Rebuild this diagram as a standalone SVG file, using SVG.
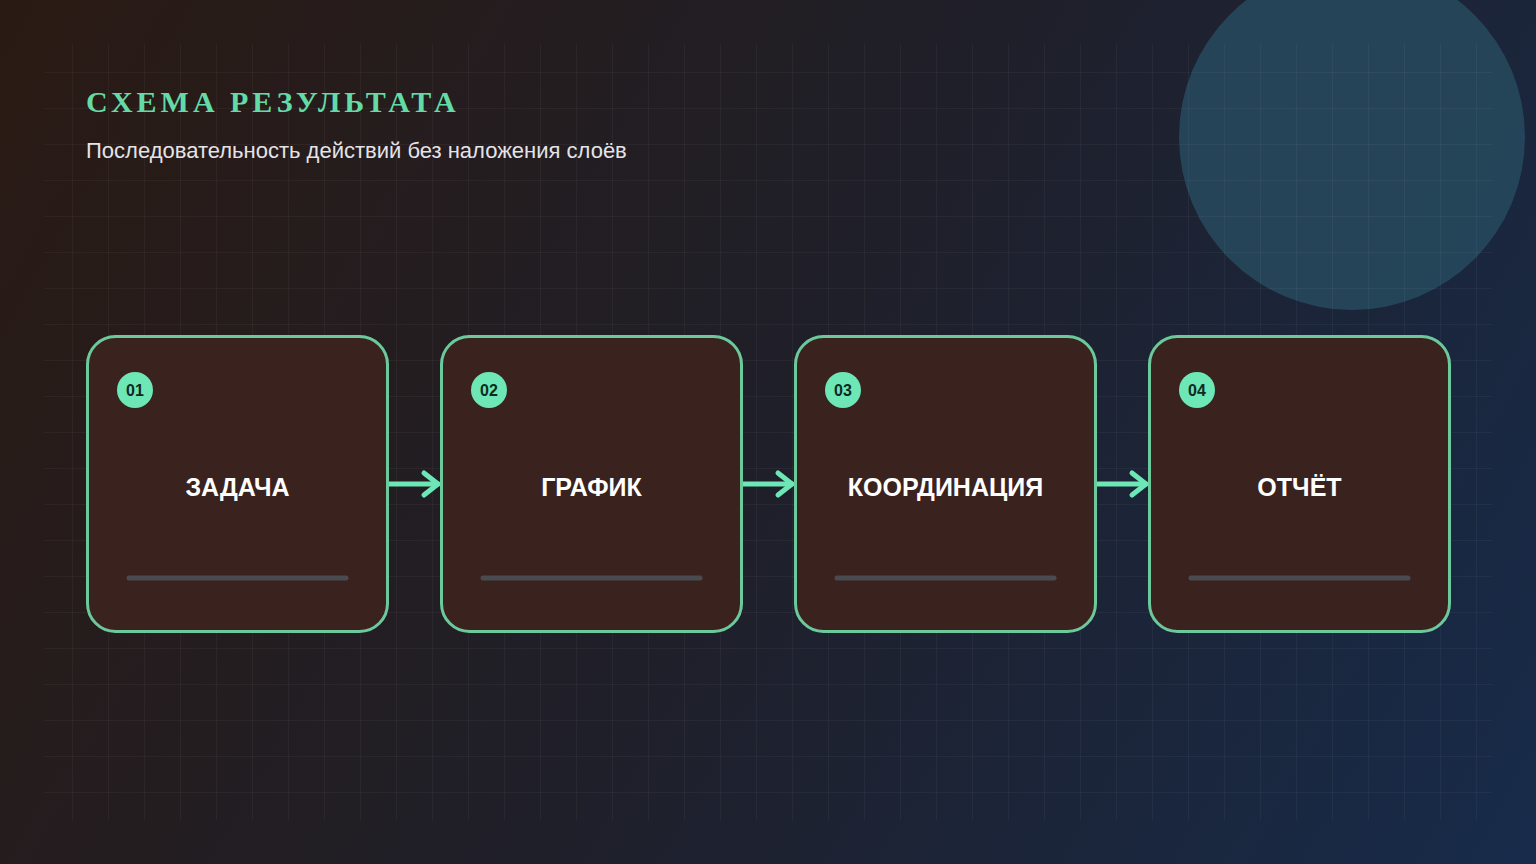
<svg xmlns="http://www.w3.org/2000/svg" width="1536" height="864" viewBox="0 0 1536 864">
  <defs>
    <linearGradient id="bg" x1="0" y1="0" x2="1536" y2="864" gradientUnits="userSpaceOnUse">
      <stop offset="0" stop-color="#2a1a13"/>
      <stop offset="0.5" stop-color="#1f1f29"/>
      <stop offset="1" stop-color="#172b4a"/>
    </linearGradient>
    <pattern id="grid" x="0" y="0" width="36" height="36" patternUnits="userSpaceOnUse">
      <path d="M0 0.5 H36 M0.5 0 V36" fill="none" stroke="#ffffff" stroke-opacity="0.04" stroke-width="1"/>
    </pattern>
    <marker id="chev" viewBox="0 0 30 30" refX="25" refY="15" markerWidth="30" markerHeight="30" markerUnits="userSpaceOnUse" orient="auto">
      <path d="M11 4 L25 15 L11 26" fill="none" stroke="#6ee7b7" stroke-width="5" stroke-linecap="round" stroke-linejoin="round"/>
    </marker>
    <style>
      .title { font-family: "Liberation Serif", "DejaVu Serif", serif; font-weight: bold; font-size: 30px; letter-spacing: 4px; fill: #63dba6; }
      .sub { font-family: "Liberation Sans", Arial, sans-serif; font-size: 22px; fill: #e4e4e8; }
      .card { fill: #3a221f; stroke: #6cc99c; stroke-width: 3; }
      .badge { fill: #6ee7b7; }
      .num { font-family: "Liberation Sans", Arial, sans-serif; font-weight: bold; font-size: 16px; fill: #0f2a22; text-anchor: middle; }
      .label { font-family: "Liberation Sans", Arial, sans-serif; font-weight: bold; font-size: 25px; fill: #ffffff; text-anchor: middle; }
      .bar { stroke: #4a4b51; stroke-width: 5; stroke-linecap: round; }
      .conn { stroke: #6ee7b7; stroke-width: 5; stroke-linecap: round; fill: none; }
    </style>
  </defs>

  <rect x="0" y="0" width="1536" height="864" fill="url(#bg)"/>
  <circle cx="1352" cy="137" r="173" fill="#274a5e" fill-opacity="0.85"/>
  <rect x="44" y="44" width="1448" height="776" fill="url(#grid)"/>

  <text class="title" x="86" y="112">СХЕМА РЕЗУЛЬТАТА</text>
  <text class="sub" x="86" y="158">Последовательность действий без наложения слоёв</text>

  <g id="connectors">
    <line class="conn" x1="389" y1="484" x2="438" y2="484" marker-end="url(#chev)"/>
    <line class="conn" x1="743" y1="484" x2="792" y2="484" marker-end="url(#chev)"/>
    <line class="conn" x1="1097" y1="484" x2="1146" y2="484" marker-end="url(#chev)"/>
  </g>

  <g id="node1">
    <rect class="card" x="87.5" y="336.5" width="300" height="295" rx="28"/>
    <circle class="badge" cx="135" cy="390" r="18"/>
    <text class="num" x="135" y="396">01</text>
    <text class="label" x="237.5" y="496">ЗАДАЧА</text>
    <line class="bar" x1="129" y1="578" x2="346" y2="578"/>
  </g>
  <g id="node2">
    <rect class="card" x="441.5" y="336.5" width="300" height="295" rx="28"/>
    <circle class="badge" cx="489" cy="390" r="18"/>
    <text class="num" x="489" y="396">02</text>
    <text class="label" x="591.5" y="496">ГРАФИК</text>
    <line class="bar" x1="483" y1="578" x2="700" y2="578"/>
  </g>
  <g id="node3">
    <rect class="card" x="795.5" y="336.5" width="300" height="295" rx="28"/>
    <circle class="badge" cx="843" cy="390" r="18"/>
    <text class="num" x="843" y="396">03</text>
    <text class="label" x="945.5" y="496">КООРДИНАЦИЯ</text>
    <line class="bar" x1="837" y1="578" x2="1054" y2="578"/>
  </g>
  <g id="node4">
    <rect class="card" x="1149.5" y="336.5" width="300" height="295" rx="28"/>
    <circle class="badge" cx="1197" cy="390" r="18"/>
    <text class="num" x="1197" y="396">04</text>
    <text class="label" x="1299.5" y="496">ОТЧЁТ</text>
    <line class="bar" x1="1191" y1="578" x2="1408" y2="578"/>
  </g>
</svg>
